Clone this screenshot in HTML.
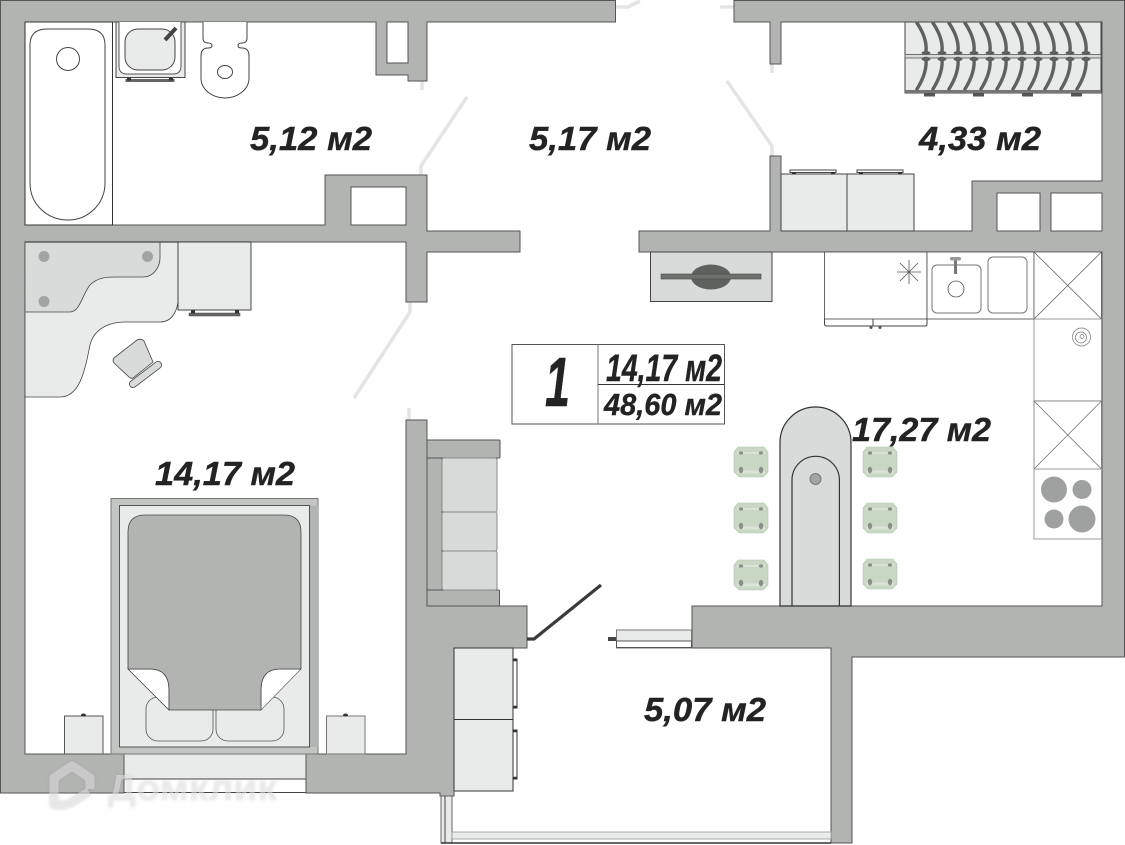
<!DOCTYPE html>
<html><head><meta charset="utf-8">
<style>
html,body{margin:0;padding:0;background:#fff}
svg{display:block}
text{font-family:"Liberation Sans",sans-serif;font-weight:bold;font-style:italic;fill:#232323;stroke:#232323;stroke-width:.4}
</style></head><body>
<svg width="1125" height="845" viewBox="0 0 1125 845" xmlns="http://www.w3.org/2000/svg">
<defs>
<g id="pl">
<path d="M0,0 C6,9 10,18 9,28" fill="none" stroke="#5f615f" stroke-width="3.4" stroke-linecap="round"/>
<ellipse cx="9" cy="30" rx="4.500" ry="2" fill="#5f615f"/>
<path d="M9,36 C10,47 5,58 0,66" fill="none" stroke="#5f615f" stroke-width="3.4" stroke-linecap="round"/>
<ellipse cx="9" cy="36" rx="4.500" ry="2.200" fill="#5f615f"/>
</g>
<g id="ch">
<path d="M4,0 H30 L34,5 V25 L29,30 H5 L0,25 V5 Z" fill="#c9d7c5" stroke="#b5c4b1" stroke-width=".6"/>
<path d="M3,6 H31" stroke="#eef2ec" stroke-width="1"/>
<path d="M3,25 H31" stroke="#dbe4d8" stroke-width="3"/>
<ellipse cx="7" cy="6" rx="2.2" ry="1.6" fill="#8b8f8b"/><ellipse cx="27" cy="6" rx="2.2" ry="1.6" fill="#8b8f8b"/>
<ellipse cx="7" cy="23" rx="2.2" ry="3.2" fill="#8b8f8b"/><ellipse cx="27" cy="23" rx="2.2" ry="3.2" fill="#8b8f8b"/>
</g>
</defs>

<!-- door swings -->
<g fill="none" stroke="#e3e4e3" stroke-width="3.5">
<path d="M421,175 V166 L467,97"/><path d="M422,81 V90"/>
<path d="M410,302 V312 L354,398"/><path d="M409,408 V420"/>
<path d="M616,7 H628 L640,1"/><path d="M720,7 H734"/>
<path d="M727,81 L772,146 V156"/><path d="M772,64 V73"/>
</g>

<!-- window bedroom -->
<rect x="124" y="754" width="182" height="25" fill="#e9ebea"/>
<rect x="124" y="779" width="182" height="13" fill="#fff"/>
<path d="M124,779 H306 M124,792.500 H306" stroke="#444" stroke-width="1"/>

<!-- walls -->
<g fill="#b2b4b2" stroke="#555" stroke-width="1" fill-rule="evenodd">
<path d="M.5,.5 H615.500 V22 H427 V81 H408 V75 H376 V22 H25 V225 H325 V175 H427 V231 H520 V252 H427 V302 H406 V242 H25 V754 H124 V793 H.5 Z M387,22 H408 V63 H387 Z M351,187 H406 V225 H351 Z"/>
<path d="M734,.5 H1124.500 V657 H852 V843 H831 V648 H692 V606 H1102 V252 H639 V231 H770 V156 H781 V231 H972 V181 H1102 V22 H781 V64 H770 V22 H734 Z M997,193 H1040 V231 H997 Z M1051,193 H1102 V231 H1051 Z"/>
<path d="M406,420 H427 V606 H527 V648 H454 V796 H440 V793 H306 V754 H406 Z"/>
</g>

<!-- bath room -->
<rect x="25" y="22" width="87.500" height="203" fill="#fff" stroke="#333" stroke-width="1"/>
<path d="M30,45 Q30,29 47,29 H88 Q105,29 105,45 V183 C105,204 88,220 68,220 C47,220 30,204 30,183 Z" fill="#fff" stroke="#444" stroke-width="1"/>
<circle cx="68" cy="59" r="11.500" fill="#fff" stroke="#444"/>
<rect x="116" y="22" width="69" height="55.500" fill="#e9ebea" stroke="#444"/>
<path d="M119,22 V66 Q119,74 127,74 H173 Q181,74 181,66 V22" fill="#fff" stroke="#555"/>
<rect x="125" y="29" width="50" height="41" rx="13" fill="#e9ebea" stroke="#444"/>
<path d="M165,40 L176,28" stroke="#444" stroke-width="4"/>
<rect x="125.500" y="79" width="49" height="3" fill="#666"/>
<rect x="127" y="78" width="4" height="2.500" fill="#333"/><rect x="169" y="78" width="4" height="2.500" fill="#333"/>
<path d="M203,22 V38 Q203,43 208,43 Q212,43 212,46 Q212,48 208,48 Q201,48 201,56 V78 C201,90 213,98 225,98 C237,98 249,90 249,78 V56 Q249,48 242,48 Q238,48 238,46 Q238,43 242,43 Q247,43 247,38 V22" fill="#fff" stroke="#444"/>
<ellipse cx="225" cy="72" rx="7.500" ry="6.500" fill="#fff" stroke="#444"/>

<!-- bedroom desk -->
<path d="M25,397 H60 C80,397 85,370 90,345 C95,325 115,322 125,322 H160 C175,322 178,305 178,300 V242 H25 Z" fill="#e9ebea" stroke="#444" stroke-width=".8"/>
<path d="M25,312 H70 C80,312 82,295 90,285 C98,277 108,277 115,277 H143 C155,277 160,265 160,258 V242 H25 Z" fill="#d9dbda" stroke="#444" stroke-width=".8"/>
<circle cx="44" cy="256.500" r="5.500" fill="#a2a4a2"/><circle cx="147.500" cy="256.500" r="5.500" fill="#a2a4a2"/><circle cx="44" cy="301.500" r="5.500" fill="#a2a4a2"/>
<path d="M25,242 H251" stroke="#444" stroke-width="1.200"/>
<rect x="178" y="242" width="73" height="68" fill="#e9ebea" stroke="#444"/>
<rect x="189" y="313" width="51" height="3" fill="#666" stroke="#444" stroke-width=".5"/>
<rect x="191" y="310" width="4" height="3.500" fill="#333"/><rect x="235" y="310" width="4" height="3.500" fill="#333"/>
<path d="M114,358 L137,340 Q141,338 144,341 L153,362 L133,378 Q131,379 129,377 L114,363 Q112,360 114,358 Z" fill="#d9dbda" stroke="#444" stroke-width=".8"/>
<path d="M133,384 L158,365" stroke="#444" stroke-width="8" stroke-linecap="round"/>
<path d="M133,384 L158,365" stroke="#d9dbda" stroke-width="6.400" stroke-linecap="round"/>

<!-- bed -->
<rect x="111" y="498.500" width="207" height="255.500" fill="#c3c5c3" stroke="#777"/>
<rect x="309" y="505.500" width="9" height="241.500" fill="#b2b4b2"/>
<rect x="119.500" y="505.500" width="190" height="241.500" fill="#e9ebea" stroke="#333" stroke-width=".8"/>
<rect x="146" y="697" width="67" height="44" rx="12" fill="#e9ebea" stroke="#555" stroke-width=".8"/>
<rect x="216" y="697" width="68" height="44" rx="12" fill="#e9ebea" stroke="#555" stroke-width=".8"/>
<path d="M128,669 L169,710 V690 Q169,669 150,669 Z" fill="#fff" stroke="#333" stroke-width=".7"/>
<path d="M301,669 L261,710 V690 Q261,669 280,669 Z" fill="#fff" stroke="#666" stroke-width=".7"/>
<path d="M128,669 V532 Q128,515 145,515 H284 Q301,515 301,532 V669 H280 Q261,669 261,690 V710 H169 V690 Q169,669 150,669 Z" fill="#b2b4b2" stroke="#444" stroke-width=".8"/>
<rect x="64.500" y="716" width="38.500" height="38" fill="#e9ebea" stroke="#555"/>
<rect x="326.500" y="716" width="38.500" height="38" fill="#e9ebea" stroke="#777"/>
<ellipse cx="83.500" cy="715" rx="2.500" ry="1.500" fill="#333"/><ellipse cx="345.500" cy="715" rx="2.500" ry="1.500" fill="#333"/>

<!-- sofa -->
<rect x="427" y="440" width="73" height="18" rx="1" fill="#b2b4b2" stroke="#555"/>
<rect x="427" y="458" width="15" height="132" fill="#b2b4b2" stroke="#555"/>
<rect x="427" y="590" width="72.500" height="16" rx="1" fill="#b2b4b2" stroke="#555"/>
<g fill="#d9dbda" stroke="#888">
<rect x="442" y="458" width="55" height="54" rx="2"/><rect x="442" y="512" width="55" height="39" rx="2"/><rect x="442" y="551" width="55" height="39" rx="2"/>
</g>

<!-- balcony -->
<g fill="#e9ebea" stroke="#333">
<rect x="454" y="648" width="59" height="71.500"/><rect x="454" y="719.500" width="59" height="71.500"/>
</g>
<g fill="#fff" stroke="#333" stroke-width="1">
<rect x="513" y="659" width="4" height="49"/><rect x="513" y="730" width="4" height="49"/>
</g>
<path d="M513,660 h4 M513,707 h4 M513,731 h4 M513,778 h4" stroke="#333" stroke-width="2.500"/>
<path d="M527,639 H534 L601,585" fill="none" stroke="#3a3a3a" stroke-width="3.200"/>
<rect x="616.500" y="630" width="75" height="18" fill="#e9ebea" stroke="#777"/>
<rect x="616.500" y="641" width="75" height="6.500" fill="#fff" stroke="#555"/>
<rect x="608" y="637" width="8" height="4" fill="#444"/>
<rect x="441" y="796" width="11" height="47" fill="#e9ebea" stroke="#666"/>
<path d="M445,796 V843" stroke="#444"/>
<rect x="452" y="832" width="379" height="7" fill="#e9ebea" stroke="#999" stroke-width=".8"/>
<path d="M441,843 H831" stroke="#333" stroke-width="1.600"/>

<!-- kitchen: rack -->
<rect x="905" y="22" width="196" height="71" fill="#e9ebea" stroke="#444"/>
<rect x="905" y="54.500" width="196" height="3.500" fill="#d9dbda" stroke="#555" stroke-width=".8"/>
<rect x="905" y="90" width="196" height="3" fill="#777"/>
<use href="#pl" x="917" y="23"/><use href="#pl" x="933" y="23"/><use href="#pl" x="949" y="23"/><use href="#pl" x="965" y="23"/><use href="#pl" x="981" y="23"/><use href="#pl" x="997" y="23"/><use href="#pl" x="1013" y="23"/><use href="#pl" x="1029" y="23"/><use href="#pl" x="1045" y="23"/><use href="#pl" x="1061" y="23"/><use href="#pl" x="1077" y="23"/>
<g fill="#555"><rect x="924" y="93" width="11" height="3.500"/><rect x="973" y="93" width="11" height="3.500"/><rect x="1022" y="93" width="11" height="3.500"/><rect x="1071" y="93" width="11" height="3.500"/></g>

<!-- kitchen appliances top -->
<g fill="#e9ebea" stroke="#444"><rect x="781" y="174" width="66" height="57"/><rect x="847" y="174" width="67" height="57"/></g>
<g fill="#fff" stroke="#444"><rect x="790" y="170" width="46" height="2.500"/><rect x="857" y="170" width="46" height="2.500"/></g>
<g fill="#333"><rect x="792" y="172" width="4" height="2.500"/><rect x="831" y="172" width="4" height="2.500"/><rect x="859" y="172" width="4" height="2.500"/><rect x="898" y="172" width="4" height="2.500"/></g>

<!-- TV -->
<rect x="650.500" y="252" width="121.500" height="49.500" fill="#d9dbda" stroke="#444"/>
<ellipse cx="711" cy="277" rx="20" ry="12.500" fill="#5f615f"/>
<rect x="661" y="274" width="100" height="5" fill="#6f716f" stroke="#444" stroke-width=".6"/>

<!-- kitchen counter -->
<rect x="824.500" y="252" width="102.500" height="67" fill="#fff" stroke="#444" stroke-width=".8"/>
<path d="M824.500,319 V324 Q824.500,326 827,326 H873 V319 M873,326 H925 Q927,326 927,324 V319" fill="none" stroke="#444"/>
<circle cx="871" cy="327.500" r="1.500" fill="#555"/><circle cx="880" cy="327.500" r="1.500" fill="#555"/>
<path d="M909,260 V284 M897,272 H921 M900,263 L918,281 M918,263 L900,281" stroke="#555" stroke-width=".8"/>
<rect x="927" y="252" width="107" height="67" fill="#fff" stroke="#444" stroke-width=".8"/>
<rect x="932" y="265" width="49" height="48" rx="5" fill="#fff" stroke="#777"/>
<rect x="988" y="257" width="39" height="56" rx="5" fill="#fff" stroke="#777"/>
<circle cx="956" cy="289" r="8" fill="#fff" stroke="#555" stroke-width=".8"/>
<path d="M955.500,258 V274" stroke="#777" stroke-width="3"/>
<rect x="950" y="257" width="11" height="3.500" rx="1.500" fill="#999"/>
<rect x="1034" y="252" width="67.500" height="67" fill="#fff" stroke="#555" stroke-width=".8"/>
<path d="M1034,252 L1101.500,319 M1101.500,252 L1034,319" stroke="#555" stroke-width=".7"/>
<rect x="1034" y="319" width="67.500" height="82" fill="#fff" stroke="#999"/>
<circle cx="1081.500" cy="337" r="9" fill="none" stroke="#777" stroke-width=".7"/>
<circle cx="1081" cy="337.500" r="5.500" fill="none" stroke="#777" stroke-width=".7"/>
<circle cx="1082" cy="336.500" r="2" fill="none" stroke="#777" stroke-width=".7"/>
<rect x="1034" y="401" width="67.500" height="68" fill="#fff" stroke="#777" stroke-width=".8"/>
<path d="M1034,401 L1101.500,469 M1101.500,401 L1034,469" stroke="#666" stroke-width=".7"/>
<rect x="1034" y="469" width="67.500" height="70" fill="#fff" stroke="#999"/>
<g fill="#9fa1a0"><circle cx="1054" cy="489.500" r="13"/><circle cx="1082" cy="489.500" r="9.500"/><circle cx="1054" cy="519" r="9.500"/><circle cx="1082" cy="519" r="13.500"/></g>

<!-- table and chairs -->
<path d="M780,606 V442.500 A35.500,35.500 0 0 1 851,442.500 V606 Z" fill="#d9dbda" stroke="#333" stroke-width="1.200"/>
<path d="M792,606 V480 A23.700,23.700 0 0 1 839.400,480 V606" fill="none" stroke="#333" stroke-width="1.200"/>
<ellipse cx="815.500" cy="479" rx="5.500" ry="5.500" fill="#a2a4a2" stroke="#777"/>
<use href="#ch" x="734" y="447"/><use href="#ch" x="863" y="447"/>
<use href="#ch" x="734" y="503"/><use href="#ch" x="863" y="503"/>
<use href="#ch" x="734" y="560"/><use href="#ch" x="863" y="559"/>

<!-- info box -->
<rect x="512" y="344.500" width="212.500" height="79.500" fill="#fff" stroke="#555"/>
<path d="M598,344.500 V424" stroke="#777"/>
<path d="M598,384.500 H724.500" stroke="#333"/>
<text x="545" y="406" font-size="70" textLength="25" lengthAdjust="spacingAndGlyphs">1</text>
<text x="606" y="381" font-size="38" textLength="116" lengthAdjust="spacingAndGlyphs">14,17 м2</text>
<text x="604" y="415" font-size="31" textLength="118" lengthAdjust="spacingAndGlyphs">48,60 м2</text>

<!-- area labels -->
<text x="250" y="150" font-size="33" textLength="122" lengthAdjust="spacingAndGlyphs">5,12 м2</text>
<text x="529" y="150" font-size="33" textLength="122" lengthAdjust="spacingAndGlyphs">5,17 м2</text>
<text x="919" y="150" font-size="33" textLength="122" lengthAdjust="spacingAndGlyphs">4,33 м2</text>
<text x="155" y="485" font-size="33" textLength="140" lengthAdjust="spacingAndGlyphs">14,17 м2</text>
<text x="852" y="441" font-size="33" textLength="139" lengthAdjust="spacingAndGlyphs">17,27 м2</text>
<text x="644" y="721" font-size="33" textLength="122" lengthAdjust="spacingAndGlyphs">5,07 м2</text>

<!-- watermark -->
<g style="filter:drop-shadow(0 0 1.500px rgba(120,120,120,.35))">
<g opacity=".5">
<path d="M90,789 V778 L72,766 L54,778 V805 H67 M67,805 L89,792" fill="none" stroke="#e8e8e8" stroke-width="9" stroke-linejoin="round"/>
<text x="108" y="800" font-size="36" textLength="169" lengthAdjust="spacingAndGlyphs" style="fill:#ececec;stroke:none;font-style:normal">Домклик</text>
</g>
</g>
</svg>
</body></html>
